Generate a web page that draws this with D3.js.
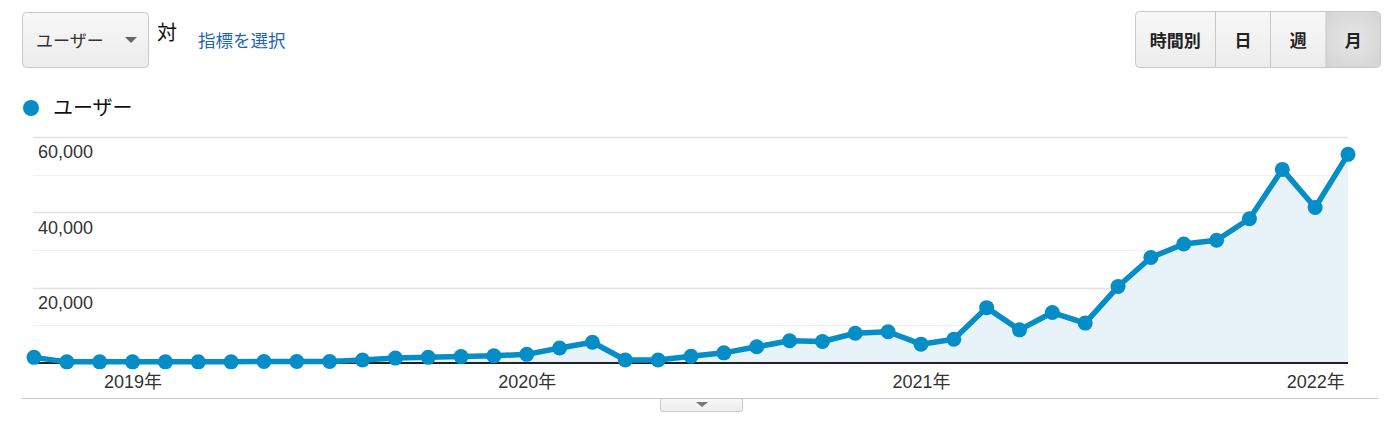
<!DOCTYPE html>
<html><head><meta charset="utf-8">
<script src="https://cdn.jsdelivr.net/npm/d3@7"></script>
<style>
html,body{margin:0;padding:0;background:#fff;}
svg{display:block;font-family:"Liberation Sans",Arial,"Noto Sans CJK JP",sans-serif;}
</style></head>
<body>
<svg id="c" width="1400" height="423"></svg>
<script>
// ---- data ----
const months = ["2018-10","2018-11","2018-12",
 "2019-01","2019-02","2019-03","2019-04","2019-05","2019-06","2019-07","2019-08","2019-09","2019-10","2019-11","2019-12",
 "2020-01","2020-02","2020-03","2020-04","2020-05","2020-06","2020-07","2020-08","2020-09","2020-10","2020-11","2020-12",
 "2021-01","2021-02","2021-03","2021-04","2021-05","2021-06","2021-07","2021-08","2021-09","2021-10","2021-11","2021-12",
 "2022-01","2022-02"];
const users = [1500,300,300,300,300,300,300,400,400,400,800,1300,1500,
 1700,1900,2300,4000,5500,800,800,1800,2700,4300,5900,5700,7900,8300,
 5000,6300,14700,8800,13400,10600,20300,28000,31600,32600,38300,51400,41300,55400];
const yearTicks = ["2019-01","2020-01","2021-01","2022-01"];
const yearLabels = ["2019年","2020年","2021年","2022年"];
const yGrid = [10000,20000,30000,40000,50000,60000];
const yLabeled = [20000,40000,60000];
const seriesName = "ユーザー";
const periodButtons = ["時間別","日","週","月"];

// ---- drawing ----
const svg = d3.select("#c");
const blue = "#058dc7";
const jp = "'Noto Sans CJK JP',sans-serif";

const defs = svg.append("defs");
const g1 = defs.append("linearGradient").attr("id","btn").attr("x1",0).attr("y1",0).attr("x2",0).attr("y2",1);
g1.append("stop").attr("offset","0").attr("stop-color","#f8f8f8");
g1.append("stop").attr("offset","1").attr("stop-color","#ececec");
const g2 = defs.append("radialGradient").attr("id","sel").attr("cx","50%").attr("cy","50%").attr("r","70%");
g2.append("stop").attr("offset","0").attr("stop-color","#e6e6e6");
g2.append("stop").attr("offset","1").attr("stop-color","#d4d4d4");

// dropdown
svg.append("rect").attr("x",22.5).attr("y",12.5).attr("width",126).attr("height",55).attr("rx",4)
  .attr("fill","url(#btn)").attr("stroke","#c8c8c8");
svg.append("text").attr("x",36).attr("y",41).attr("dy","0.35em").attr("font-size",17).attr("fill","#333")
  .style("font-family",jp).text(seriesName);
svg.append("path").attr("d","M125,37 L137,37 L131,43 Z").attr("fill","#666");
svg.append("text").attr("x",157).attr("y",33).attr("dy","0.35em").attr("font-size",20).attr("fill","#111")
  .style("font-family",jp).text("対");
svg.append("text").attr("x",198).attr("y",41).attr("dy","0.35em").attr("font-size",17.5).attr("fill","#1f68b0")
  .style("font-family",jp).text("指標を選択");

// period buttons
const bx = [1135,1215.5,1270.5,1326,1380.5];
svg.append("rect").attr("x",1135.5).attr("y",11.5).attr("width",245).attr("height",56).attr("rx",4)
  .attr("fill","url(#btn)").attr("stroke","#c8c8c8");
svg.append("path").attr("d","M1326,12 L1376.5,12 Q1380,12 1380,15.5 L1380,63.5 Q1380,67 1376.5,67 L1326,67 Z")
  .attr("fill","url(#sel)");
periodButtons.forEach((t,i)=>{
  if(i>0) svg.append("line").attr("x1",bx[i]).attr("x2",bx[i]).attr("y1",12).attr("y2",67).attr("stroke","#c8c8c8");
  svg.append("text").attr("x",(bx[i]+bx[i+1])/2).attr("y",41).attr("dy","0.35em").attr("text-anchor","middle")
    .attr("font-size",17).attr("font-weight","bold").attr("fill","#222").style("font-family",jp).text(t);
});

// legend
svg.append("circle").attr("cx",31).attr("cy",108).attr("r",8).attr("fill",blue);
svg.append("text").attr("x",53).attr("y",108).attr("dy","0.35em").attr("font-size",20).attr("fill","#111")
  .style("font-family",jp).text(seriesName);

// scales
const x = d3.scalePoint().domain(months).range([34,1348]);
const y = d3.scaleLinear().domain([0,60000]).range([363,137]);

// grid
svg.append("g").selectAll("line").data(yGrid).join("line")
  .attr("x1",33).attr("x2",1348).attr("y1",d=>Math.round(y(d))+0.5).attr("y2",d=>Math.round(y(d))+0.5)
  .attr("stroke",d=>yLabeled.includes(d)?"#e2e2e2":"#f1f1f1").attr("stroke-width",d=>yLabeled.includes(d)?1.5:1.2);

// area + line
const area = d3.area().x((d,i)=>x(months[i])).y0(y(0)).y1(d=>y(d));
svg.append("path").datum(users).attr("d",area).attr("fill","#e8f2f9");

// y labels
svg.append("g").selectAll("text").data(yLabeled).join("text")
  .attr("x",38).attr("y",d=>y(d)+15).attr("dy","0.35em").attr("font-size",18).attr("fill","#333")
  .text(d=>d3.format(",")(d));

// baseline
svg.append("line").attr("x1",33).attr("x2",1348).attr("y1",363).attr("y2",363).attr("stroke","#222").attr("stroke-width",2);

const line = d3.line().x((d,i)=>x(months[i])).y(d=>y(d));
svg.append("path").datum(users).attr("d",line).attr("fill","none").attr("stroke",blue)
  .attr("stroke-width",5.5).attr("stroke-linejoin","round");
svg.append("g").selectAll("circle").data(users).join("circle")
  .attr("cx",(d,i)=>x(months[i])).attr("cy",d=>y(d)).attr("r",7.5).attr("fill",blue);

// x axis labels
const xAxis = d3.axisBottom(x).tickValues(yearTicks).tickSize(0)
  .tickFormat(d=>yearLabels[yearTicks.indexOf(d)]);
const xg = svg.append("g").attr("transform","translate(0,372)").call(xAxis);
xg.select(".domain").remove();
xg.selectAll("text").attr("font-size",18).attr("fill","#333")
  .style("font-family","'Liberation Sans',Arial,'Noto Sans CJK JP',sans-serif");

// bottom divider + handle
svg.append("line").attr("x1",22).attr("x2",1378).attr("y1",398.5).attr("y2",398.5).attr("stroke","#c8c8c8");
svg.append("rect").attr("x",660.5).attr("y",398.5).attr("width",82).attr("height",13).attr("rx",2)
  .attr("fill","url(#btn)").attr("stroke","#c8c8c8");
svg.append("path").attr("d","M696,402 L708,402 L702,407 Z").attr("fill","#777");
</script>
</body></html>
